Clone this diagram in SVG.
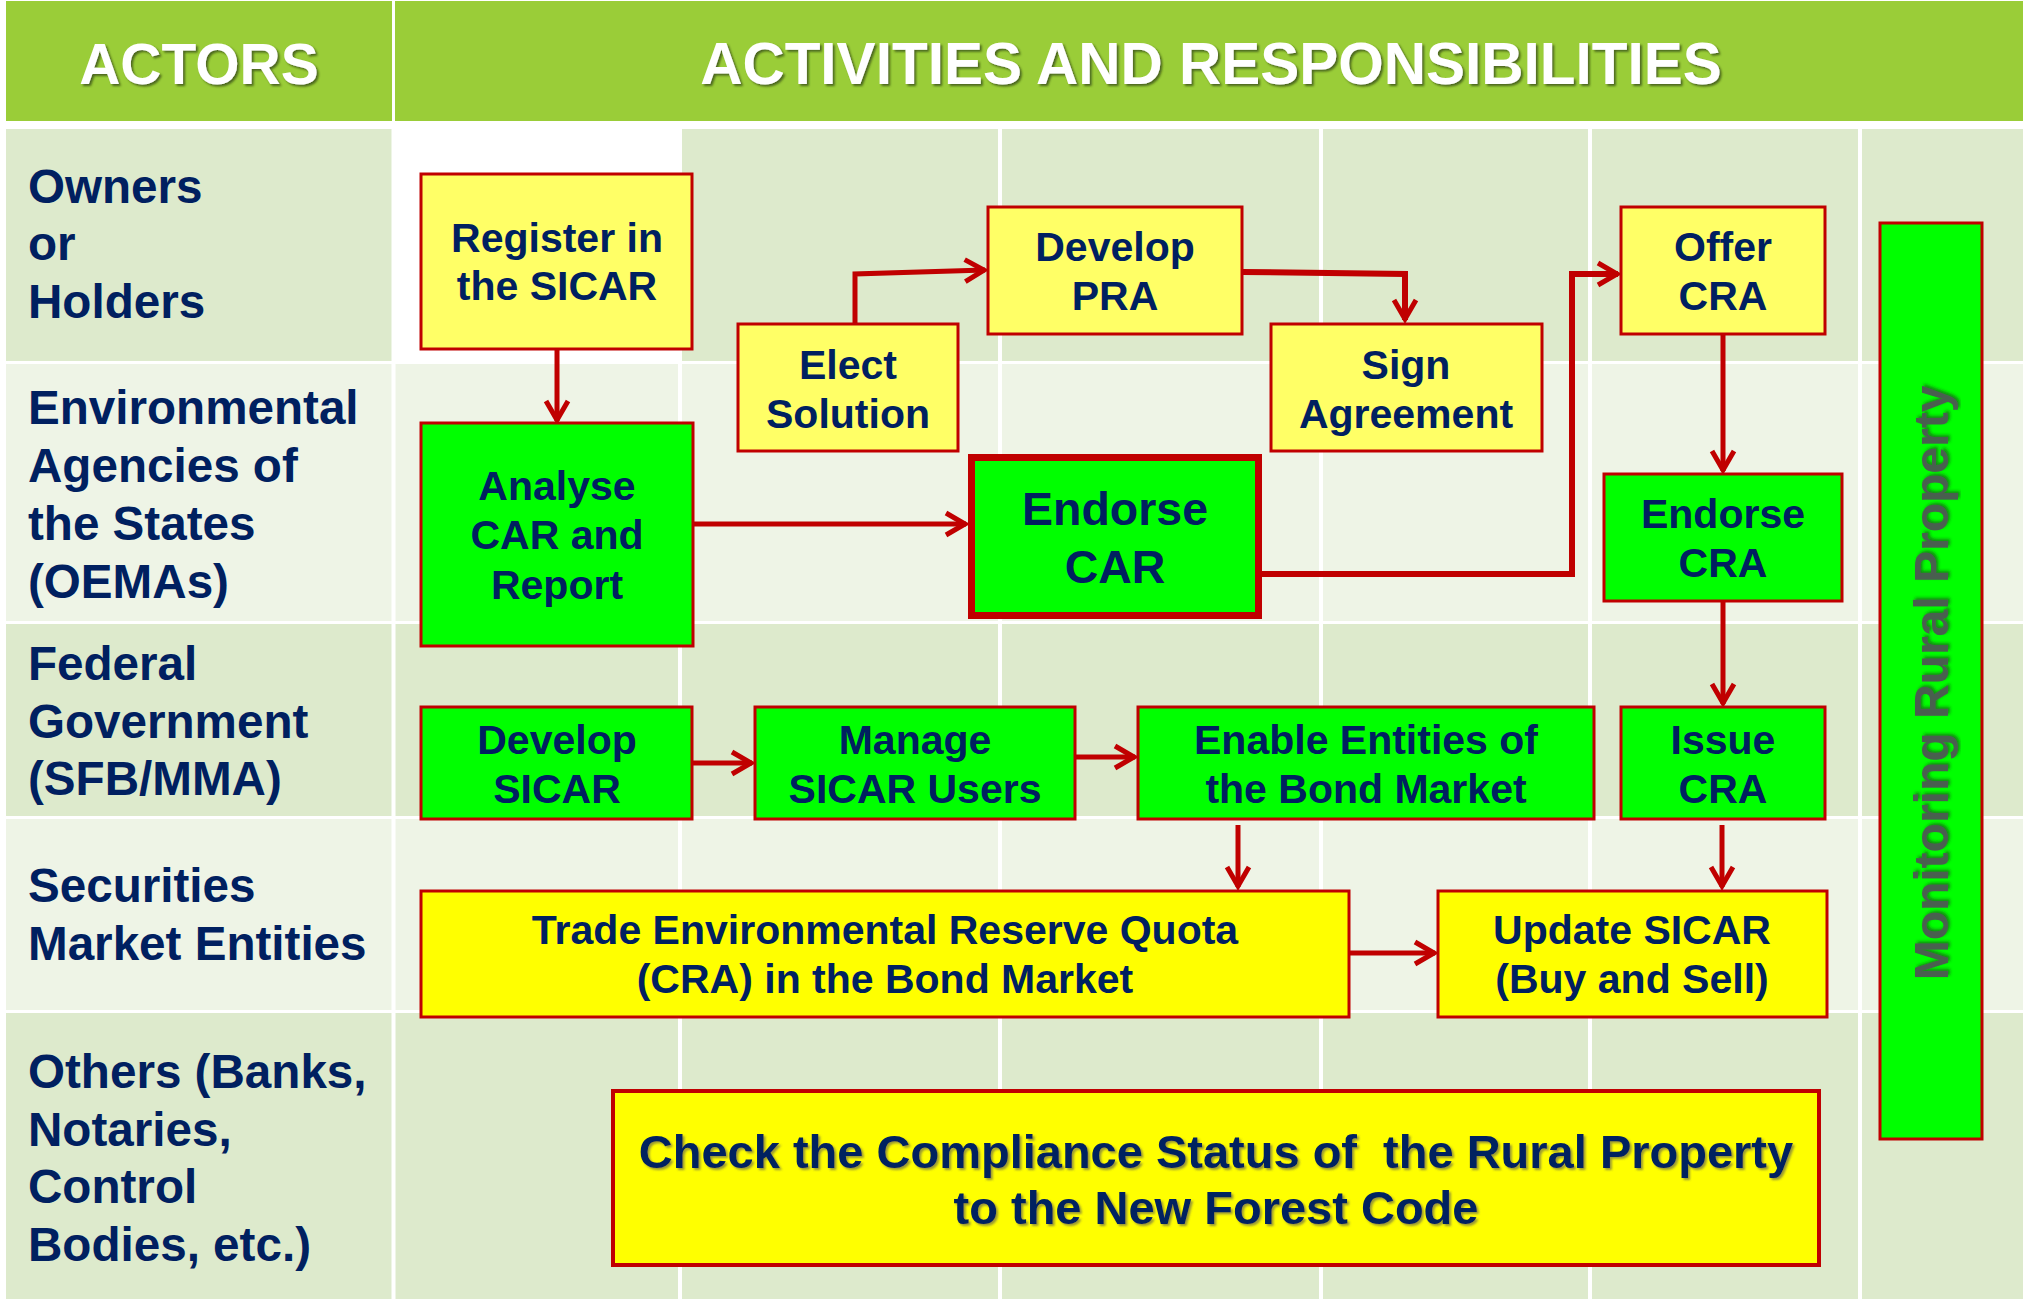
<svg xmlns="http://www.w3.org/2000/svg" width="2023" height="1299" viewBox="0 0 2023 1299">
<defs>
<style>
.tx{font-family:"Liberation Sans",Arial,sans-serif;font-weight:bold;fill:#002060}
.bt{font-size:41px;text-anchor:middle}
.ac{font-size:47.6px}
.hd{font-family:"Liberation Sans",Arial,sans-serif;font-weight:bold;font-size:57px;fill:#FFFFFF;text-anchor:middle}
.dk{fill:#DDEACC}
.lt{fill:#EEF4E6}
.hg{fill:#9ACD38}
.yl{fill:#FFFF66;stroke:#C00000;stroke-width:3}
.yb{fill:#FFFF00;stroke:#C00000;stroke-width:3}
.gr{fill:#00FF00;stroke:#C00000;stroke-width:3}
.cn{fill:none;stroke:#C00000;stroke-width:5;marker-end:url(#arr)}
.vl{stroke:#FFFFFF;stroke-width:4}
</style>
<marker id="arr" viewBox="-26 -16 32 32" refX="0" refY="0" markerWidth="32" markerHeight="32" markerUnits="userSpaceOnUse" orient="auto">
<path d="M-20,-11 L-1,0 L-20,11" fill="none" stroke="#C00000" stroke-width="5" stroke-linejoin="miter"/>
</marker>
<filter id="sh" x="-5%" y="-20%" width="110%" height="150%">
<feDropShadow dx="2" dy="2" stdDeviation="1.2" flood-color="#2a3a10" flood-opacity="0.7"/>
</filter>
<filter id="sh2" x="-5%" y="-20%" width="110%" height="150%">
<feDropShadow dx="2" dy="2" stdDeviation="1.2" flood-color="#555555" flood-opacity="0.6"/>
</filter>
<filter id="sh3" x="-20%" y="-5%" width="140%" height="110%">
<feDropShadow dx="2" dy="2" stdDeviation="1.5" flood-color="#1a4020" flood-opacity="0.6"/>
</filter>
</defs>
<rect x="0" y="0" width="2023" height="1299" fill="#FFFFFF"/>

<g id="background">
<rect class="hg" x="6" y="1" width="386" height="120"/>
<rect class="hg" x="395" y="1" width="1628" height="120"/>
<rect class="dk" x="6" y="129" width="386" height="232"/>
<rect class="dk" x="682" y="129" width="1341" height="232"/>
<rect class="lt" x="6" y="364" width="2017" height="257"/>
<rect class="dk" x="6" y="624" width="2017" height="192"/>
<rect class="lt" x="6" y="819" width="2017" height="191"/>
<rect class="dk" x="6" y="1013" width="2017" height="286"/>
<line class="vl" x1="393.5" y1="121" x2="393.5" y2="1299"/>
<line class="vl" x1="680" y1="129" x2="680" y2="1299"/>
<line class="vl" x1="1000" y1="129" x2="1000" y2="1299"/>
<line class="vl" x1="1321" y1="129" x2="1321" y2="1299"/>
<line class="vl" x1="1590" y1="129" x2="1590" y2="1299"/>
<line class="vl" x1="1860" y1="129" x2="1860" y2="1299"/>
</g>

<g id="header">
<text class="hd" x="199" y="84" filter="url(#sh)">ACTORS</text>
<text class="hd" x="1211" y="84" style="font-size:58.5px" filter="url(#sh)">ACTIVITIES AND RESPONSIBILITIES</text>
</g>

<g id="actors">
<text class="tx ac"><tspan x="28" y="203">Owners</tspan><tspan x="28" y="260">or</tspan><tspan x="28" y="318">Holders</tspan></text>
<text class="tx ac"><tspan x="28" y="424">Environmental</tspan><tspan x="28" y="482">Agencies of</tspan><tspan x="28" y="540">the States</tspan><tspan x="28" y="598">(OEMAs)</tspan></text>
<text class="tx ac"><tspan x="28" y="680">Federal</tspan><tspan x="28" y="738">Government</tspan><tspan x="28" y="795">(SFB/MMA)</tspan></text>
<text class="tx ac"><tspan x="28" y="902">Securities</tspan><tspan x="28" y="960">Market Entities</tspan></text>
<text class="tx ac"><tspan x="28" y="1088">Others (Banks,</tspan><tspan x="28" y="1146">Notaries,</tspan><tspan x="28" y="1203">Control</tspan><tspan x="28" y="1261">Bodies, etc.)</tspan></text>
</g>

<g id="connectors">
<path class="cn" d="M557,349 V421"/>
<path class="cn" d="M693,524 H966"/>
<path class="cn" d="M855,324 V274 L985,270"/>
<path class="cn" d="M1242,272 L1405,274 V320" style="stroke-width:6"/>
<path class="cn" d="M1262,574 H1572 V274 H1618" style="stroke-width:6"/>
<path class="cn" d="M1723,334 V471"/>
<path class="cn" d="M1723,601 V704"/>
<path class="cn" d="M692,763 H752"/>
<path class="cn" d="M1075,757 H1135"/>
<path class="cn" d="M1238,825 V887"/>
<path class="cn" d="M1722,825 V887"/>
<path class="cn" d="M1349,953 H1435"/>
</g>

<g id="register">
<rect class="yl" x="421" y="174" width="271" height="175"/>
<text class="tx bt"><tspan x="557" y="252">Register in</tspan><tspan x="557" y="300">the SICAR</tspan></text>
</g>
<g id="analyse">
<rect class="gr" x="421" y="423" width="272" height="223"/>
<text class="tx bt"><tspan x="557" y="500">Analyse</tspan><tspan x="557" y="549">CAR and</tspan><tspan x="557" y="599">Report</tspan></text>
</g>
<g id="elect">
<rect class="yl" x="738" y="324" width="220" height="127"/>
<text class="tx bt"><tspan x="848" y="379">Elect</tspan><tspan x="848" y="428">Solution</tspan></text>
</g>
<g id="developpra">
<rect class="yl" x="988" y="207" width="254" height="127"/>
<text class="tx bt"><tspan x="1115" y="261">Develop</tspan><tspan x="1115" y="310">PRA</tspan></text>
</g>
<g id="sign">
<rect class="yl" x="1271" y="324" width="271" height="127"/>
<text class="tx bt"><tspan x="1406" y="379">Sign</tspan><tspan x="1406" y="428">Agreement</tspan></text>
</g>
<g id="offer">
<rect class="yl" x="1621" y="207" width="204" height="127"/>
<text class="tx bt"><tspan x="1723" y="261">Offer</tspan><tspan x="1723" y="310">CRA</tspan></text>
</g>
<g id="endorsecar">
<rect x="971.5" y="457.5" width="287" height="158" fill="#00FF00" stroke="#C00000" stroke-width="7"/>
<text class="tx bt" style="font-size:46.5px"><tspan x="1115" y="525">Endorse</tspan><tspan x="1115" y="583">CAR</tspan></text>
</g>
<g id="endorsecra">
<rect class="gr" x="1604" y="474" width="238" height="127"/>
<text class="tx bt"><tspan x="1723" y="528">Endorse</tspan><tspan x="1723" y="577">CRA</tspan></text>
</g>
<g id="developsicar">
<rect class="gr" x="421" y="707" width="271" height="112"/>
<text class="tx bt"><tspan x="557" y="754">Develop</tspan><tspan x="557" y="803">SICAR</tspan></text>
</g>
<g id="manage">
<rect class="gr" x="755" y="707" width="320" height="112"/>
<text class="tx bt"><tspan x="915" y="754">Manage</tspan><tspan x="915" y="803">SICAR Users</tspan></text>
</g>
<g id="enable">
<rect class="gr" x="1138" y="707" width="456" height="112"/>
<text class="tx bt"><tspan x="1366" y="754">Enable Entities of</tspan><tspan x="1366" y="803">the Bond Market</tspan></text>
</g>
<g id="issue">
<rect class="gr" x="1621" y="707" width="204" height="112"/>
<text class="tx bt"><tspan x="1723" y="754">Issue</tspan><tspan x="1723" y="803">CRA</tspan></text>
</g>
<g id="trade">
<rect class="yb" x="421" y="891" width="928" height="126"/>
<text class="tx bt"><tspan x="885" y="944">Trade Environmental Reserve Quota</tspan><tspan x="885" y="993">(CRA) in the Bond Market</tspan></text>
</g>
<g id="update">
<rect class="yb" x="1438" y="891" width="389" height="126"/>
<text class="tx bt"><tspan x="1632" y="944">Update SICAR</tspan><tspan x="1632" y="993">(Buy and Sell)</tspan></text>
</g>
<g id="check">
<rect class="yb" x="613" y="1091" width="1206" height="174" style="stroke-width:4"/>
<text class="tx bt" style="font-size:47px" xml:space="preserve" filter="url(#sh2)"><tspan x="1216" y="1168">Check the Compliance Status of  the Rural Property</tspan><tspan x="1216" y="1224">to the New Forest Code</tspan></text>
</g>
<g id="monitoring">
<rect x="1880" y="223" width="102" height="916" fill="#00FF00" stroke="#C00000" stroke-width="3"/>
<text transform="translate(1948,683) rotate(-90)" x="0" y="0" text-anchor="middle" font-family="Liberation Sans, Arial, sans-serif" font-weight="bold" font-size="48" fill="#4A5E50" filter="url(#sh3)">Monitoring Rural Property</text>
</g>
</svg>
